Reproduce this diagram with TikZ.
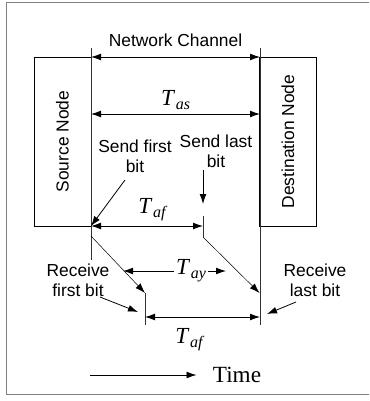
\documentclass[tikz,border=0pt]{standalone}
\usepackage{fontspec}
\setmainfont{Liberation Serif}
\setsansfont{Liberation Sans}
\usetikzlibrary{arrows.meta,calc,positioning}
\newcommand{\tsym}[1]{\textit{T}\kern0.3pt\raisebox{-0.35ex}{\fontsize{8}{9}\selectfont\textit{#1}}}
\tikzset{%
	label/.style  = {font=\sffamily\fontsize{8.7}{9.8}\selectfont, align=center, inner sep=0pt},
	tlabel/.style = {font=\fontsize{11.5}{13}\selectfont, inner sep=1pt},
	nodebox/.style= {draw, line width=0.4pt, minimum width=28.5pt, minimum height=84.5pt, inner sep=0pt},
	arrow/.style  = {line width=0.4pt, -{Latex[length=5pt,width=3.4pt]}},
	darrow/.style = {line width=0.4pt, {Latex[length=5pt,width=3.4pt]}-{Latex[length=5pt,width=3.4pt]}},
	thin line/.style = {line width=0.3pt, black!80},
}
\begin{document}
\begin{tikzpicture}[x=0.5pt,y=-0.5pt]
	\useasboundingbox (0,0) rectangle (369,401);
	\draw[gray, line width=0.4pt] (369,2) -- (6,2) -- (6,394) -- (369,394);
	% nodes
	\node[nodebox] (src) at (62.5,141.5) {};
	\node[nodebox] (dst) at (288,141.5) {};
	\node[label, rotate=90] at (src.center) {Source Node};
	\node[label, rotate=90] at (dst.center) {Destination Node};
	% channel limits
	\coordinate (chl) at (91,48);
	\coordinate (chr) at (260,48);
	\coordinate (chlb) at (91,260);
	\coordinate (chrb) at (260,325);
	\draw[thin line] (chl) -- (chlb);
	\draw[thin line] (chr) -- (chrb);
	\node[label] (net) at (175.5,40) {Network Channel};
	\draw[darrow] (91,57) -- (260,57);
	\node[tlabel] (tas) at (175.5,100) {\tsym{as}};
	\draw[darrow] (91,114) -- (260,114);
	% sending
	\node[label] (sfb) at (135,156) {Send first\\bit};
	\node[label] (slb) at (216,151) {Send last\\bit};
	\coordinate (s1) at (91,226);
	\coordinate (s2) at (203,226);
	\coordinate (s2t) at (203,216);
	\coordinate (s2b) at (203,237);
	\draw[thin line] (s2t) -- (s2b);
	\draw[arrow] (125,180) -- (s1);
	\draw[arrow] (203,170) -- (203,204);
	\node[tlabel] (taf) at (153,210) {\tsym{af}};
	\draw[darrow] (s1) -- (s2);
	% receiving
	\coordinate (r1t) at (145,293);
	\coordinate (r1b) at (145,325);
	\coordinate (r2t) at (259.5,293);
	\draw[thin line] (r1t) -- (r1b);
	\draw[arrow, line width=0.25pt] (91,236) -- (r1t);
	\draw[arrow, line width=0.25pt] (s2b) -- (r2t);
	\node[tlabel] (tay) at (191,271) {\tsym{ay}};
	\draw[arrow] (tay.west) -- (123,271);
	\draw[arrow] (tay.east) -- (226,271);
	\node[label] (rfb) at (78,280) {Receive\\first bit};
	\node[label] (rlb) at (315,280) {Receive\\last bit};
	\draw[arrow] (100,297) -- (138,312);
	\draw[arrow] (296,302) -- (267,314);
	\draw[darrow] (145,317) -- (260,317);
	\node[tlabel] (taf2) at (190,340) {\tsym{af}};
	% time axis
	\node[font=\fontsize{11.6}{13}\selectfont, inner sep=0pt] (time) at (237,375) {Time};
	\coordinate (t0) at (90,375);
	\draw[arrow] (t0) -- ([xshift=-8pt]time.west);
\end{tikzpicture}
\end{document}
